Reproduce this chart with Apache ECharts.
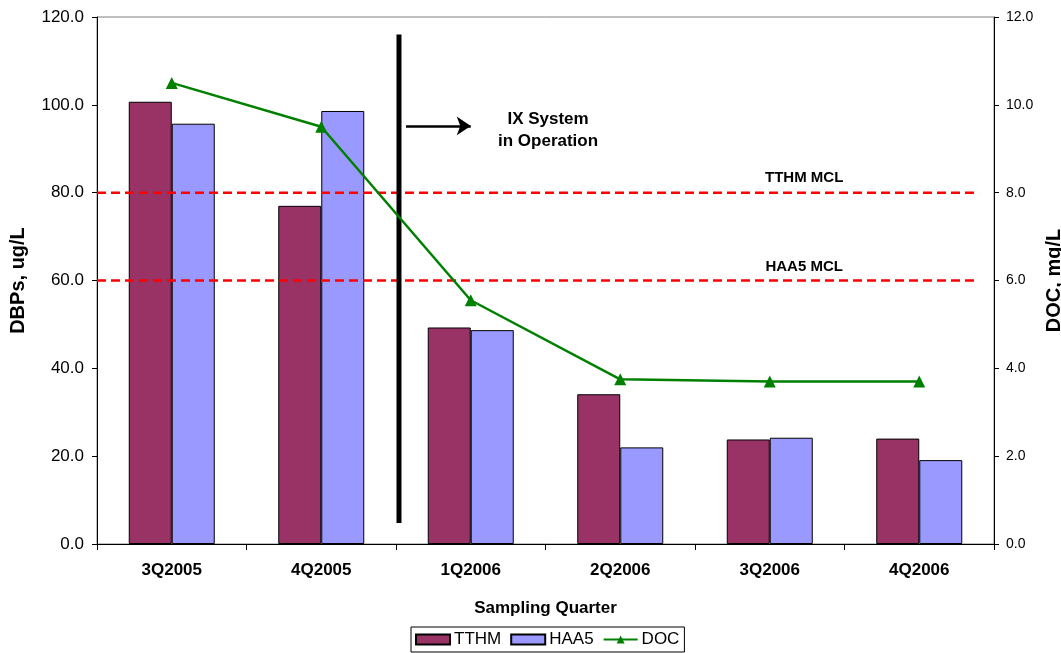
<!DOCTYPE html>
<html>
<head>
<meta charset="utf-8">
<script src="https://cdn.jsdelivr.net/npm/echarts@6/dist/echarts.min.js"></script>
<style>html,body{margin:0;padding:0;background:#fff}#c{width:1061px;height:653px}</style>
</head>
<body>
<div id="c"></div>
<script>
var categories = ['3Q2005','4Q2005','1Q2006','2Q2006','3Q2006','4Q2006'];
var tthm = [100.7, 77.0, 49.3, 34.1, 23.8, 24.0];
var haa5 = [95.7, 98.6, 48.7, 22.0, 24.2, 19.1];
var doc = [10.5, 9.5, 5.55, 3.75, 3.7, 3.7];
var mclValues = {tthm: 80, haa5: 60};
var mclExtent = [0, 5.9];
var ixLine = [[2.02, 116], [2.02, 4.8]];
var ixArrow = [[2.067, 95.2], [2.5, 95.2]];
var ixText = [[3.017, 94.1]];
var mclLabels = [[4.73, 83.4, 'TTHM MCL'], [4.73, 63.2, 'HAA5 MCL']];

var FONT = 'Liberation Sans, Arial, sans-serif';
var chart = echarts.init(document.getElementById('c'), null, {renderer: 'canvas'});
chart.setOption({
  animation: false,
  backgroundColor: '#fff',
  textStyle: {fontFamily: FONT, color: '#000'},
  grid: {left: 97, right: 67, top: 17, bottom: 109, show: true, borderColor: '#808080', borderWidth: 1, containLabel: false, outerBoundsMode: 'none'},
  legend: {
    bottom: 1, left: 411,
    data: [{name: 'TTHM', icon: 'rect'}, {name: 'HAA5', icon: 'rect'}, {name: 'DOC'}],
    itemWidth: 34, itemHeight: 10, itemGap: 9,
    padding: [4, 5, 4, 4],
    borderColor: '#000', borderWidth: 1,
    textStyle: {fontSize: 17, color: '#000', fontFamily: FONT, padding: [0, 0, 0, -1]}
  },
  xAxis: [{
    type: 'category', data: categories,
    axisLine: {lineStyle: {color: '#000', width: 1}},
    axisTick: {show: true, length: 6, lineStyle: {color: '#000'}},
    axisLabel: {fontSize: 17, fontWeight: 'bold', color: '#000', margin: 18, fontFamily: FONT},
    name: 'Sampling Quarter', nameLocation: 'middle', nameGap: 56,
    nameTextStyle: {fontSize: 17, fontWeight: 'bold', color: '#000', fontFamily: FONT}
  }, {
    type: 'value', min: 0, max: 6, show: false
  }],
  yAxis: [{
    type: 'value', min: 0, max: 120, interval: 20,
    axisLine: {show: true, lineStyle: {color: '#000'}},
    axisTick: {show: true, length: 5, lineStyle: {color: '#000'}},
    splitLine: {show: false},
    axisLabel: {fontSize: 17, color: '#000', margin: 13, fontFamily: FONT, formatter: function (v) { return v.toFixed(1); }},
    name: 'DBPs, ug/L', nameLocation: 'middle', nameGap: 69,
    nameTextStyle: {fontSize: 20, fontWeight: 'bold', color: '#000', fontFamily: FONT}
  }, {
    type: 'value', min: 0, max: 12, interval: 2, position: 'right',
    axisLine: {show: true, lineStyle: {color: '#000'}},
    axisTick: {show: true, length: 5, lineStyle: {color: '#000'}},
    splitLine: {show: false},
    axisLabel: {fontSize: 14, color: '#000', margin: 12, fontFamily: FONT, formatter: function (v) { return v.toFixed(1); }},
    name: 'DOC, mg/L', nameLocation: 'middle', nameGap: 47,
    nameTextStyle: {fontSize: 20, fontWeight: 'bold', color: '#000', fontFamily: FONT}
  }],
  series: [{
    name: 'TTHM', type: 'bar', data: tthm, barWidth: 43, barGap: '0%',
    itemStyle: {color: '#993366', borderColor: '#000', borderWidth: 1}
  }, {
    name: 'HAA5', type: 'bar', data: haa5, barWidth: 43, barGap: '0%',
    itemStyle: {color: '#9999FF', borderColor: '#000', borderWidth: 1}
  }, {
    name: 'MCL_TTHM', type: 'line', xAxisIndex: 1, yAxisIndex: 0,
    data: [[mclExtent[0], mclValues.tthm], [mclExtent[1], mclValues.tthm]],
    symbol: 'none', silent: true,
    lineStyle: {color: '#FF0000', width: 2.5, type: [9, 5]}
  }, {
    name: 'MCL_HAA5', type: 'line', xAxisIndex: 1, yAxisIndex: 0,
    data: [[mclExtent[0], mclValues.haa5], [mclExtent[1], mclValues.haa5]],
    symbol: 'none', silent: true,
    lineStyle: {color: '#FF0000', width: 2.5, type: [9, 5]}
  }, {
    name: 'IX', type: 'line', xAxisIndex: 1, yAxisIndex: 0,
    data: ixLine, symbol: 'none', silent: true,
    lineStyle: {color: '#000', width: 5},
    markLine: {
      silent: true, symbol: ['none', 'arrow'], symbolSize: [14, 14],
      lineStyle: {color: '#000', width: 2.5, type: 'solid'},
      label: {show: false},
      data: [[{coord: ixArrow[0]}, {coord: ixArrow[1]}]]
    }
  }, {
    name: 'IXText', type: 'scatter', xAxisIndex: 1, yAxisIndex: 0,
    data: ixText, symbolSize: 0, silent: true, itemStyle: {opacity: 1},
    label: {show: true, position: 'inside', formatter: 'IX System\nin Operation', fontSize: 17, fontWeight: 'bold', color: '#000', opacity: 1, lineHeight: 22, fontFamily: FONT}
  }, {
    name: 'MCLText', type: 'scatter', xAxisIndex: 1, yAxisIndex: 0,
    data: mclLabels, symbolSize: 0, silent: true, itemStyle: {opacity: 1},
    label: {show: true, position: 'inside', formatter: function (p) { return p.data[2]; }, fontSize: 15, fontWeight: 'bold', color: '#000', opacity: 1, fontFamily: FONT}
  }, {
    name: 'DOC', type: 'line', data: doc, yAxisIndex: 1,
    symbol: 'triangle', symbolSize: 12,
    itemStyle: {color: '#008000'},
    lineStyle: {color: '#008000', width: 2.5}
  }]
});
</script>
</body>
</html>
